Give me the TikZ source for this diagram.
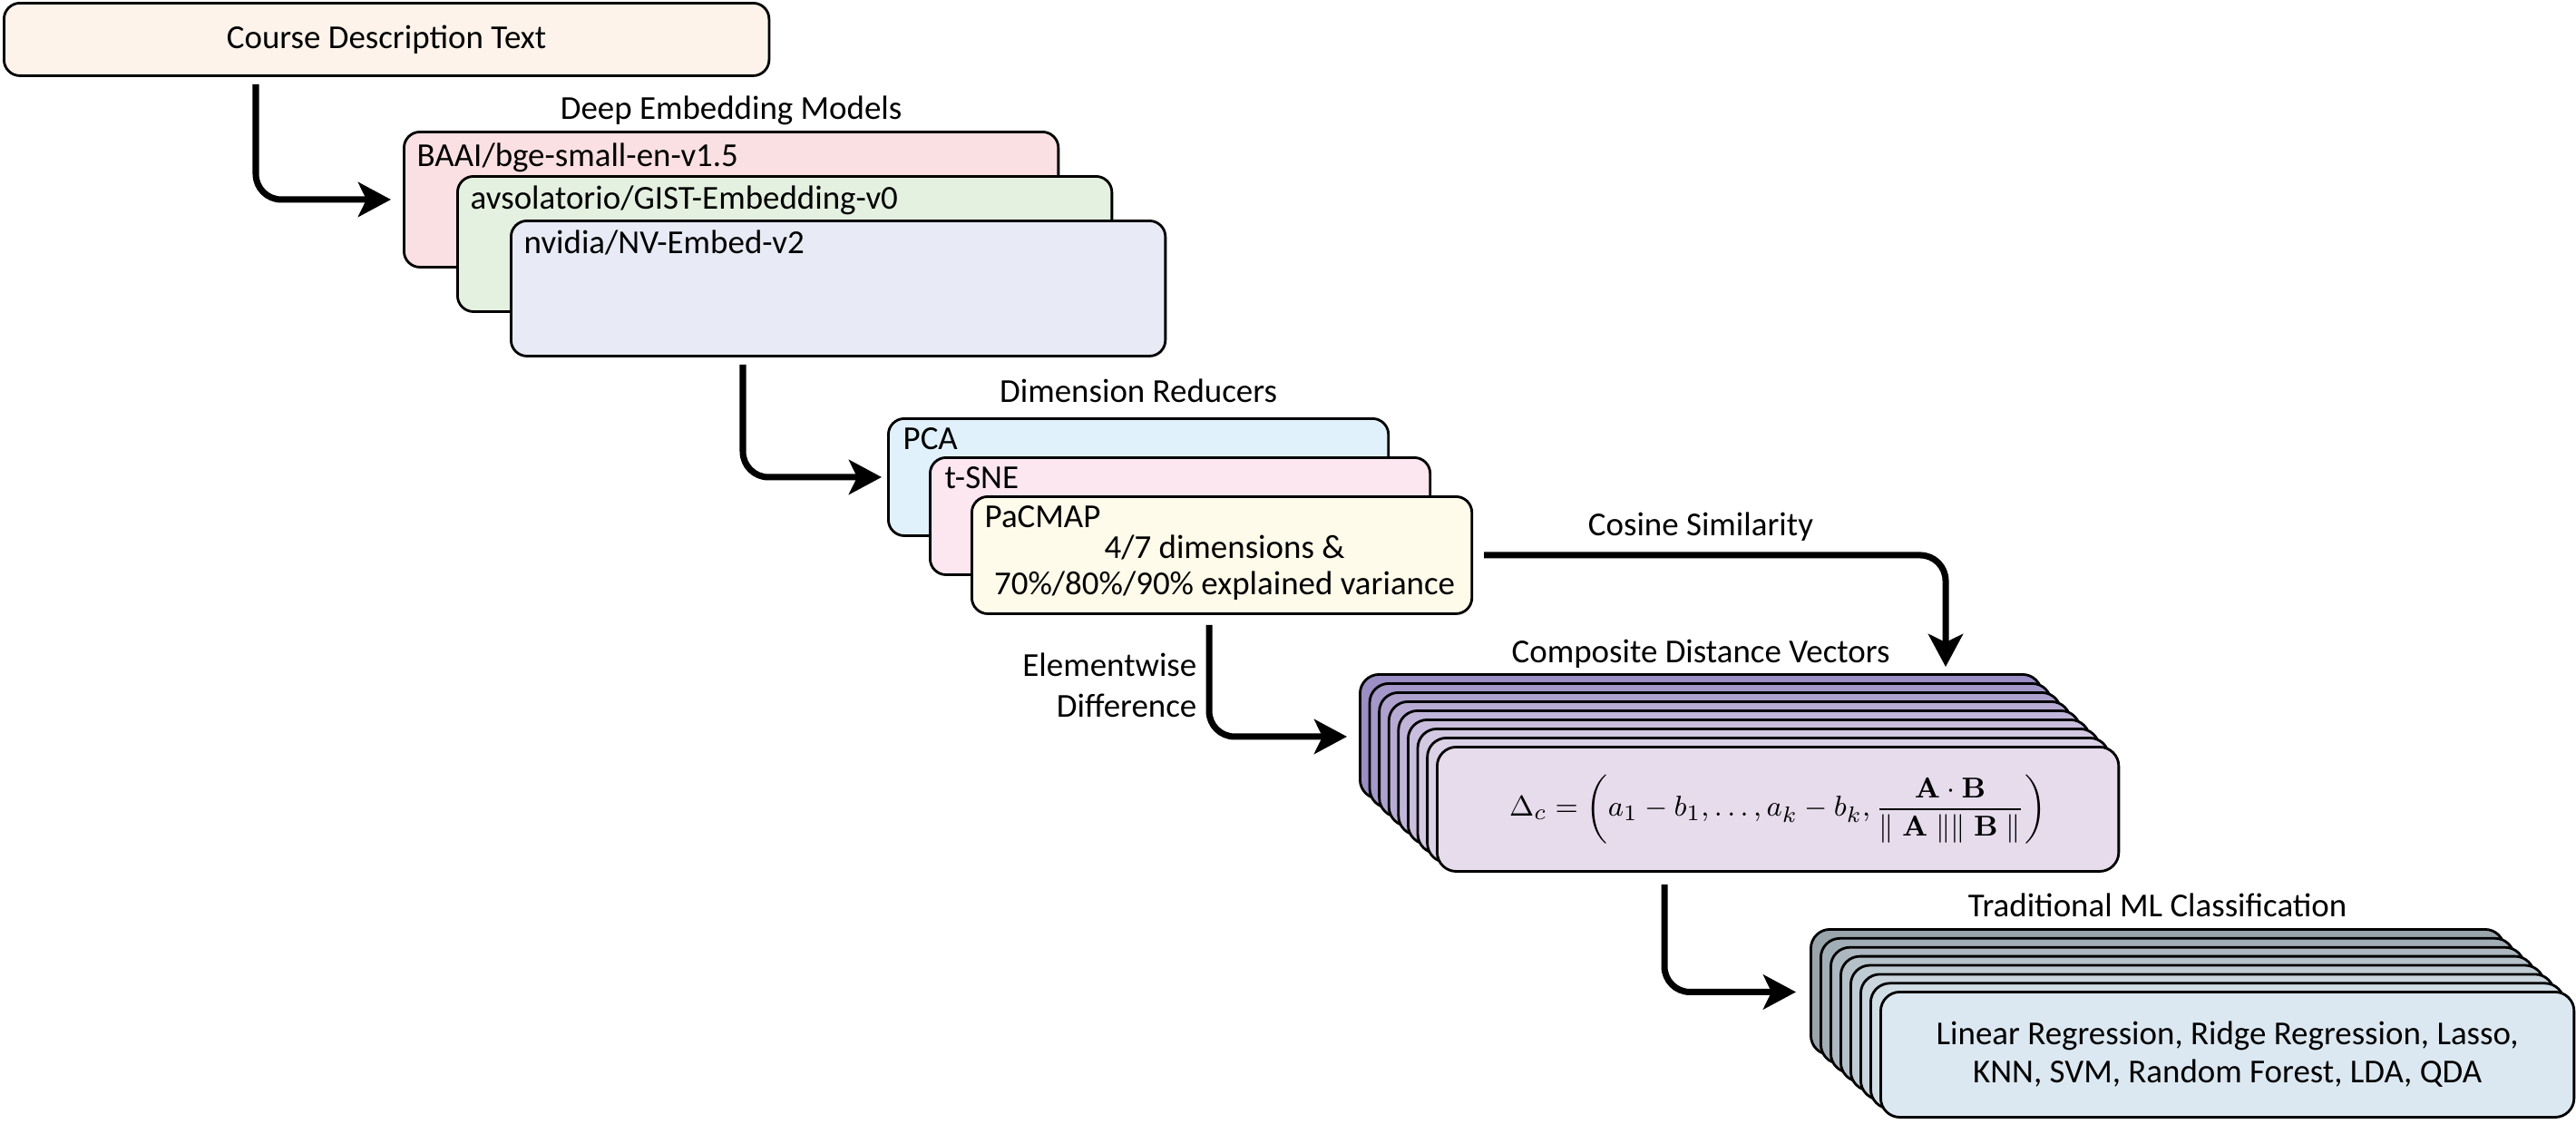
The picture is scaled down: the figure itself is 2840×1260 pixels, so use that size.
\documentclass[tikz,border=0pt]{standalone}
\usepackage{amsmath}
\usepackage[no-math]{fontspec}
\setmainfont{Carlito}
\usepackage{tikz}
\usetikzlibrary{arrows.meta,calc,positioning}

\definecolor{courseC}{HTML}{FDF3EA}
\definecolor{baaiC}{HTML}{FBE0E3}
\definecolor{gistC}{HTML}{E4F0E0}
\definecolor{nvC}{HTML}{E8EBF5}
\definecolor{pcaC}{HTML}{E0F1FB}
\definecolor{tsneC}{HTML}{FCE6F0}
\definecolor{pacC}{HTML}{FEFBEA}
\definecolor{cdvBack}{HTML}{9B8EC4}
\definecolor{cdvFront}{HTML}{E6DCEC}
\definecolor{tmlBack}{HTML}{99A4AB}
\definecolor{tmlFront}{HTML}{DCE8F1}

\begin{document}
\begin{tikzpicture}[x=0.01cm,y=-0.01cm,
    font=\fontsize{10.5}{12.6}\selectfont,
    card/.style={draw,line width=0.8pt,rounded corners=5pt,anchor=north west,inner sep=0pt},
    model/.style={card,minimum width=7.21cm,minimum height=1.49cm},
    reducer/.style={card,minimum width=5.51cm,minimum height=1.29cm},
    layer/.style={card,rounded corners=6pt},
    tag/.style={inner sep=0pt},
    flow/.style={line width=2pt,rounded corners=8pt,-{Stealth[length=3.6mm,width=3.8mm,inset=0.9mm]}}]
  \useasboundingbox (0,0) rectangle (2840,1260);

  % input text
  \node[card,fill=courseC,minimum width=8.43cm,minimum height=0.8cm] (course) at (3,2) {Course Description Text};

  % embedding models
  \node[model,fill=baaiC] (baai) at (444,144) {};
  \node[model,fill=gistC] (gist) at (503,193) {};
  \node[model,fill=nvC] (nv) at (562,242) {};
  \node[tag,anchor=base west] (baai-t) at ($(baai.north west)+(15,39)$) {BAAI/bge-small-en-v1.5};
  \node[tag,anchor=base west] (gist-t) at ($(gist.north west)+(15,37)$) {avsolatorio/GIST-Embedding-v0};
  \node[tag,anchor=base west] (nv-t) at ($(nv.north west)+(15,37)$) {nvidia/NV-Embed-v2};
  \node[tag,anchor=base] (emb-h) at ($(baai.north)+(0,-13)$) {Deep Embedding Models};

  % dimension reducers
  \node[reducer,fill=pcaC] (pca) at (978,460) {};
  \node[reducer,fill=tsneC] (tsne) at (1024,503) {};
  \node[reducer,fill=pacC] (pac) at (1070,546) {};
  \node[tag,anchor=base west] (pca-t) at ($(pca.north west)+(17,35)$) {PCA};
  \node[tag,anchor=base west] (tsne-t) at ($(tsne.north west)+(17,35)$) {t-SNE};
  \node[tag,anchor=base west] (pac-t) at ($(pac.north west)+(15,35)$) {PaCMAP};
  \node[tag,anchor=base] (pac-a) at ($(pac.north)+(3,69)$) {4/7 dimensions \&};
  \node[tag,anchor=base] (pac-b) at ($(pac.north)+(3,109)$) {70\%/80\%/90\% explained variance};
  \node[tag,anchor=base] (red-h) at ($(pca.north)+(0,-17)$) {Dimension Reducers};

  % composite distance vectors
  \foreach \i in {0,...,7}{
    \pgfmathtruncatemacro{\mix}{100*\i/8}
    \node[layer,fill=cdvFront!\mix!cdvBack,minimum width=7.51cm,minimum height=1.37cm] (cdv\i) at (1498+10.6*\i,742+10*\i) {};
  }
  \node[layer,fill=cdvFront,minimum width=7.51cm,minimum height=1.37cm,font=\fontsize{9.5}{11.4}\selectfont] (cdv) at (1583,822)
    {$\displaystyle \Delta_c = \left(a_1 - b_1, \ldots, a_k - b_k, \frac{\mathbf{A}\cdot\mathbf{B}}{\parallel \mathbf{A} \parallel \parallel \mathbf{B} \parallel}\right)$};
  \node[tag,anchor=base] (cdv-h) at ($(cdv0.north)+(0,-12)$) {Composite Distance Vectors};

  % classifiers
  \foreach \i in {0,...,6}{
    \pgfmathtruncatemacro{\mix}{100*\i/7}
    \node[layer,fill=tmlFront!\mix!tmlBack,minimum width=7.64cm,minimum height=1.38cm] (tml\i) at (1995+11*\i,1023+9.9*\i) {};
  }
  \node[layer,fill=tmlFront,minimum width=7.64cm,minimum height=1.38cm,align=center,font=\fontsize{10.5}{12}\selectfont] (tml) at (2072,1092)
    {Linear Regression, Ridge Regression, Lasso,\\KNN, SVM, Random Forest, LDA, QDA};
  \node[tag,anchor=base] (tml-h) at ($(tml0.north)+(0,-13)$) {Traditional ML Classification};

  % connectors
  \coordinate (cos-end) at ($(cdv0.north west)+(647,-7)$);
  \draw[flow] ($(course.south west)+(279,8)$) |- ([xshift=-0.13cm]baai.west);
  \draw[flow] ($(nv.south west)+(257,8)$) |- ([xshift=-0.06cm]pca.west);
  \draw[flow] ($(pac.east)+(12,0)$) -| (cos-end);
  \draw[flow] ($(pac.south west)+(263,11)$) |- ([xshift=-0.13cm]cdv0.west);
  \draw[flow] ($(cdv.south west)+(252,13)$) |- ([xshift=-0.15cm]tml0.west);
  \node[tag,anchor=base] (cos-l) at (1875,590) {Cosine Similarity};
  \node[tag,anchor=base east] (diff-l) at (1320,745) {Elementwise};
  \node[tag,anchor=base east] (diff-l2) at (1320,790) {Difference};
\end{tikzpicture}
\end{document}
